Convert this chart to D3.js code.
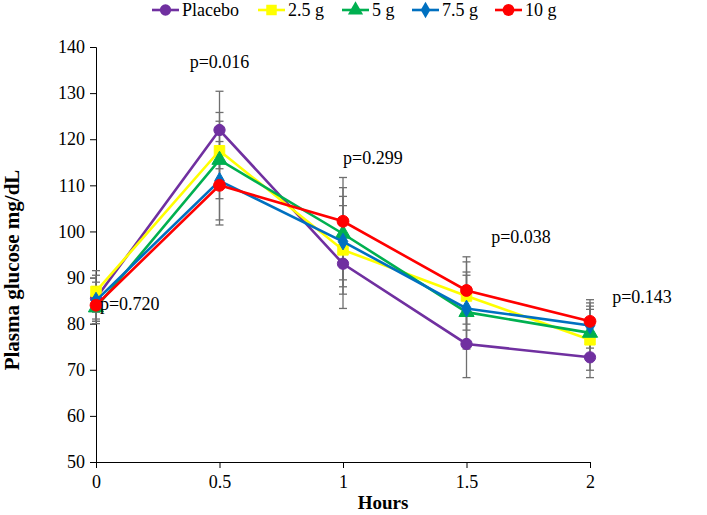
<!DOCTYPE html>
<html>
<head>
<meta charset="utf-8">
<script src="https://cdn.jsdelivr.net/npm/d3@7"></script>
<style>
  html, body { margin: 0; padding: 0; background: #fff; }
  svg { display: block; font-family: "Liberation Serif", "Times New Roman", serif; }
</style>
</head>
<body>
<svg id="chart" width="707" height="515"></svg>
<script>
// ---------------- data ----------------
const hours = [0, 0.5, 1, 1.5, 2];
const seriesNames = ["Placebo", "2.5 g", "5 g", "7.5 g", "10 g"];
const placebo = [85.5, 122.0, 93.0, 75.6, 72.7];
const g25     = [87.0, 117.5, 96.0, 86.0, 76.5];
const g5      = [83.5, 115.5, 99.5, 82.5, 78.0];
const g75     = [85.0, 111.0, 97.8, 83.3, 79.6];
const g10     = [84.0, 110.0, 102.2, 87.2, 80.5];
const errPlacebo = [5.0, 8.4, 9.7, 7.3, 4.4];
const err25      = [4.5, 8.3, 9.6, 7.4, 6.6];
const err5       = [3.0, 8.4, 10.0, 8.0, 5.8];
const err75      = [4.0, 8.5, 9.8, 7.9, 4.9];
const err10      = [4.0, 8.6, 9.5, 7.3, 4.7];
const pLabels = ["p=0.720", "p=0.016", "p=0.299", "p=0.038", "p=0.143"];
const xTicks = [0, 0.5, 1, 1.5, 2];
const yTicks = [50, 60, 70, 80, 90, 100, 110, 120, 130, 140];

// ---------------- layout ----------------
const W = 707, H = 515;
const plot = { left: 96, right: 590, top: 47, bottom: 462 };
const colors = ["#7030A0", "#FFFF00", "#00B050", "#0070C0", "#FF0000"];
const shapes = [d3.symbolCircle, d3.symbolSquare, d3.symbolTriangle, d3.symbolDiamond, d3.symbolCircle];
const symSizes = [100, 110, 100, 80, 110];
// p-label anchor points in data units [hour, value, anchor]
const pPos = [[0.016, 83.0, "start"], [0.5, 135.4, "middle"], [1.0, 114.7, "start"], [1.6, 97.4, "start"], [2.09, 84.4, "start"]];

const svg = d3.select("#chart");
const x = d3.scaleLinear().domain([0, 2]).range([plot.left, plot.right]);
const y = d3.scaleLinear().domain([50, 140]).range([plot.bottom, plot.top]);

const errs = [errPlacebo, err25, err5, err75, err10];
const series = [placebo, g25, g5, g75, g10].map((vals, i) => ({
  name: seriesNames[i], color: colors[i], shape: shapes[i], size: symSizes[i],
  pts: vals.map((v, j) => ({ h: hours[j], v: v, e: errs[i][j] }))
}));

// axes
const yAxis = d3.axisLeft(y).tickValues(yTicks).tickSize(6).tickPadding(5).tickFormat(d3.format("d"));
const gy = svg.append("g").attr("transform", `translate(${plot.left},0)`).call(yAxis);
const xAxis = d3.axisBottom(x).tickValues(xTicks).tickSize(6).tickPadding(7).tickFormat(d => String(d));
const gx = svg.append("g").attr("transform", `translate(0,${plot.bottom})`).call(xAxis);
[gx, gy].forEach(g => {
  g.select(".domain").attr("stroke", "#000").attr("stroke-width", 1);
  g.selectAll(".tick line").attr("stroke", "#000");
  g.selectAll("text").attr("font-size", 18).attr("fill", "#000")
    .style("font-family", '"Liberation Serif", "Times New Roman", serif');
});

// error bars
const eb = svg.append("g");
series.forEach(s => {
  s.pts.forEach(p => {
    eb.append("line").attr("x1", x(p.h)).attr("x2", x(p.h))
      .attr("y1", y(p.v + p.e)).attr("y2", y(p.v - p.e))
      .attr("stroke", "#6f6f6f").attr("stroke-width", 1.3);
    [p.v + p.e, p.v - p.e].forEach(c => {
      eb.append("line").attr("x1", x(p.h) - 4).attr("x2", x(p.h) + 4)
        .attr("y1", y(c)).attr("y2", y(c))
        .attr("stroke", "#6f6f6f").attr("stroke-width", 1.3);
    });
  });
});

// lines + markers
const line = d3.line().x(d => x(d.h)).y(d => y(d.v));
series.forEach(s => {
  const g = svg.append("g");
  g.append("path").datum(s.pts).attr("d", line)
    .attr("fill", "none").attr("stroke", s.color).attr("stroke-width", 2.6);
  g.selectAll("path.m").data(s.pts).enter().append("path").attr("class", "m")
    .attr("d", d3.symbol().type(s.shape).size(s.size))
    .attr("transform", d => `translate(${x(d.h)},${y(d.v)})`)
    .attr("fill", s.color).attr("stroke", s.color).attr("stroke-width", 1);
});

// p-value labels
pLabels.forEach((t, i) => {
  svg.append("text").attr("x", x(pPos[i][0])).attr("y", y(pPos[i][1]))
    .attr("text-anchor", pPos[i][2]).attr("font-size", 18).attr("fill", "#000").text(t);
});

// axis titles
svg.append("text").attr("x", 383).attr("y", 509)
  .attr("text-anchor", "middle").attr("font-size", 19).attr("font-weight", "bold").text("Hours");
svg.append("text").attr("transform", `translate(19,270) rotate(-90)`)
  .attr("text-anchor", "middle").attr("font-size", 21).attr("font-weight", "bold").text("Plasma glucose mg/dL");

// legend
const legendX = [152, 258, 342, 412, 495];
const lg = svg.append("g");
series.forEach((s, i) => {
  const lx = legendX[i], ly = 10;
  lg.append("line").attr("x1", lx).attr("x2", lx + 27).attr("y1", ly).attr("y2", ly)
    .attr("stroke", s.color).attr("stroke-width", 2.6);
  lg.append("path").attr("d", d3.symbol().type(s.shape).size(s.size)())
    .attr("transform", `translate(${lx + 13.5},${ly})`).attr("fill", s.color);
  lg.append("text").attr("x", lx + 30).attr("y", ly + 6).attr("font-size", 18).text(s.name);
});
</script>
</body>
</html>
